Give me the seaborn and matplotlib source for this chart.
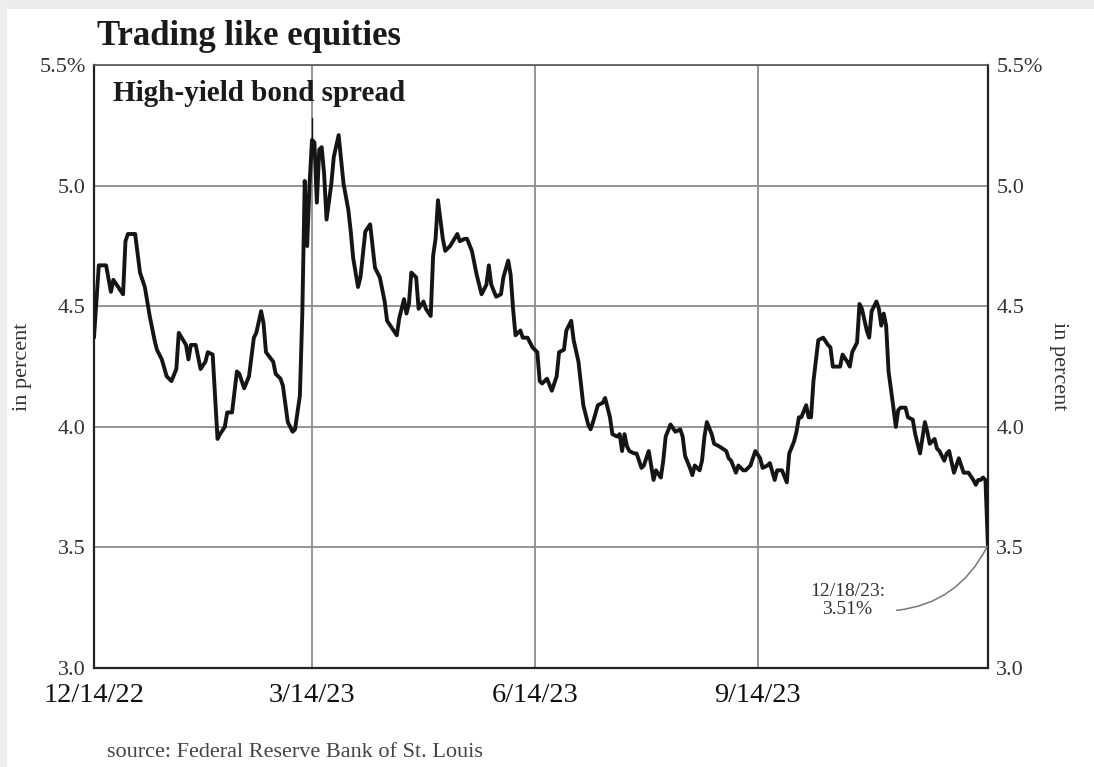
import numpy as np
import pandas as pd
import matplotlib
matplotlib.use("Agg")
import matplotlib.pyplot as plt
from matplotlib.patches import Rectangle
import seaborn as sns

# High-yield bond spread, percent; x is days after the start date
start_date = "2022-12-14"
end_date = "2023-12-18"
day_offsets = [
    0, 1, 2, 5, 7, 8, 10, 12, 13, 14, 17, 19, 21, 23, 25, 26, 28, 30, 32, 34,
    35, 38, 39, 40, 42, 44, 46, 47, 49, 51, 52, 54, 55, 57, 59, 60, 62, 64, 66, 67,
    69, 70, 71, 74, 75, 77, 78, 80, 82, 83, 85, 86, 87, 88, 89,
    90, 91, 92, 93, 94, 95, 96, 98, 99, 101, 102, 103, 105, 106, 107, 109, 110, 112, 114, 115,
    116, 118, 120, 121, 123, 125, 126, 128, 129, 130, 131, 133, 134, 136, 137, 139, 140, 141, 142, 144,
    145, 147, 150, 151, 153, 154, 156, 158, 160, 162, 163, 164, 166, 168, 169, 171, 172, 173, 174, 176,
    177, 179, 180, 181,
    183, 184, 185, 187, 189, 191, 192, 194, 195, 197, 198, 200, 201, 202, 204, 205, 206, 208, 210, 211,
    213, 214, 216, 217, 218, 219, 220, 221, 223, 224, 226, 227, 229, 230, 231, 232, 234, 235, 236, 238,
    240, 242, 243, 244, 246, 247, 248, 250, 251, 252, 253, 255, 256, 258, 261, 262, 263, 265, 266, 268,
    269, 271, 273,
    275, 276, 278, 279, 281, 282, 284, 286, 287, 289, 290, 291, 292, 294, 295, 296, 297, 299, 301, 303,
    304, 305, 307, 308, 309, 311, 312, 313, 315, 316, 317, 319, 320, 321, 323, 324, 325, 326, 327, 328,
    330, 331, 332, 333, 335, 336, 338, 339, 340, 341, 343, 344, 345, 347, 348, 349, 351, 352, 353, 355,
    356, 357, 359, 361, 363, 364, 365, 366, 367, 368, 369,
]
spread = [
    4.37, 4.52, 4.67, 4.67, 4.56, 4.61, 4.58, 4.55, 4.77, 4.80, 4.80, 4.64, 4.58, 4.46, 4.36, 4.32, 4.28, 4.21, 4.19, 4.24,
    4.39, 4.34, 4.28, 4.34, 4.34, 4.24, 4.27, 4.31, 4.30, 3.95, 3.97, 4.00, 4.06, 4.06, 4.23, 4.22, 4.16, 4.21, 4.37, 4.39,
    4.48, 4.43, 4.31, 4.27, 4.22, 4.20, 4.17, 4.02, 3.98, 3.99, 4.13, 4.47, 5.02, 4.75, 5.01,
    5.19, 5.18, 4.93, 5.15, 5.16, 5.05, 4.86, 5.01, 5.12, 5.21, 5.11, 5.01, 4.90, 4.81, 4.70, 4.58, 4.62, 4.81, 4.84, 4.75,
    4.66, 4.62, 4.52, 4.44, 4.41, 4.38, 4.45, 4.53, 4.47, 4.51, 4.64, 4.62, 4.49, 4.52, 4.49, 4.46, 4.71, 4.78, 4.94, 4.78,
    4.73, 4.75, 4.80, 4.77, 4.78, 4.78, 4.73, 4.63, 4.55, 4.59, 4.67, 4.59, 4.54, 4.55, 4.62, 4.69, 4.63, 4.49, 4.38, 4.40,
    4.37, 4.37, 4.35, 4.33,
    4.31, 4.19, 4.18, 4.20, 4.15, 4.21, 4.31, 4.32, 4.40, 4.44, 4.36, 4.27, 4.18, 4.09, 4.01, 3.99, 4.02, 4.09, 4.10, 4.12,
    4.04, 3.97, 3.96, 3.97, 3.90, 3.97, 3.92, 3.90, 3.89, 3.89, 3.83, 3.84, 3.90, 3.84, 3.78, 3.82, 3.79, 3.86, 3.96, 4.01,
    3.98, 3.99, 3.96, 3.88, 3.83, 3.80, 3.84, 3.82, 3.86, 3.96, 4.02, 3.97, 3.93, 3.92, 3.90, 3.87, 3.86, 3.81, 3.84, 3.82,
    3.82, 3.84, 3.90,
    3.87, 3.83, 3.84, 3.85, 3.78, 3.82, 3.82, 3.77, 3.89, 3.94, 3.98, 4.04, 4.04, 4.09, 4.04, 4.04, 4.19, 4.36, 4.37, 4.34,
    4.33, 4.25, 4.25, 4.25, 4.30, 4.27, 4.25, 4.31, 4.35, 4.51, 4.49, 4.40, 4.37, 4.48, 4.52, 4.49, 4.42, 4.47, 4.42, 4.23,
    4.08, 4.00, 4.07, 4.08, 4.08, 4.04, 4.03, 3.97, 3.93, 3.89, 4.02, 3.98, 3.93, 3.95, 3.91, 3.90, 3.86, 3.89, 3.90, 3.81,
    3.84, 3.87, 3.81, 3.81, 3.78, 3.76, 3.78, 3.78, 3.79, 3.78, 3.51,
]

# 3/14/23 stress marker: short thin stroke above the line
marker_date = "2023-03-14"
marker_range = [5.19, 5.28]

x_tick_dates = ["2022-12-14", "2023-03-14", "2023-06-14", "2023-09-14"]
x_tick_labels = ["12/14/22", "3/14/23", "6/14/23", "9/14/23"]
y_ticks = [3.0, 3.5, 4.0, 4.5, 5.0, 5.5]
y_tick_labels = ["3.0", "3.5", "4.0", "4.5", "5.0", "5.5%"]

last_label = "12/18/23:\n3.51%"

sns.set_style("white")
plt.rcParams["font.family"] = ["Liberation Serif", "DejaVu Serif"]

df = pd.DataFrame({
    "date": pd.to_datetime(start_date) + pd.to_timedelta(day_offsets, unit="D"),
    "spread": spread,
})

fig = plt.figure(figsize=(10.94, 7.67), dpi=100)
fig.patch.set_facecolor("white")
# faint page edge along top and left
fig.patches.append(Rectangle((0, 0.988), 1, 0.012, transform=fig.transFigure,
                             facecolor="#ececec", edgecolor="none", zorder=0))
fig.patches.append(Rectangle((0, 0), 0.006, 1, transform=fig.transFigure,
                             facecolor="#eeeeee", edgecolor="none", zorder=0))

ax = fig.add_axes([0.0859, 0.129, 0.8171, 0.786])
sns.lineplot(data=df, x="date", y="spread", ax=ax, estimator=None, sort=False,
             color="#151515", linewidth=2.8, zorder=3)
ax.plot(pd.to_datetime([marker_date, marker_date]), marker_range,
        color="#151515", linewidth=1.0, zorder=3)

x0, x1 = pd.to_datetime(start_date), pd.to_datetime(end_date)
ax.set_xlim(x0, x1)
ax.set_ylim(3.0, 5.5)

ax.set_xticks(pd.to_datetime(x_tick_dates))
ax.set_xticklabels(x_tick_labels, fontsize=20.5, color="#111111")
ax.set_yticks(y_ticks)
ax.set_yticklabels(y_tick_labels, fontsize=16, color="#333333")
ax.tick_params(axis="both", length=0)
ax.tick_params(axis="x", pad=11)
ax.tick_params(axis="y", pad=6)

ax.grid(True, color="#8c8c8c", linewidth=1.3)
ax.set_axisbelow(True)
ax.set_xlabel("")
ax.set_ylabel("in percent", fontsize=16, color="#333333", labelpad=5)

for side, sp in ax.spines.items():
    sp.set_visible(True)
    sp.set_color("#222222" if side in ("left", "bottom", "right") else "#555555")
    sp.set_linewidth(1.6 if side in ("left", "bottom", "right") else 1.2)

ax2 = ax.twinx()
ax2.set_ylim(3.0, 5.5)
ax2.set_yticks(y_ticks)
ax2.set_yticklabels(y_tick_labels, fontsize=16, color="#333333")
ax2.tick_params(axis="y", length=0, pad=6)
ax2.set_ylabel("in percent", fontsize=16, color="#333333", rotation=270, labelpad=18)
for sp in ax2.spines.values():
    sp.set_visible(False)

ax.text(0.021, 0.975, "High-yield bond spread", transform=ax.transAxes,
        fontsize=21, fontweight="bold", color="#1a1a1a", va="top", ha="left")

ax.annotate(last_label, xy=(df["date"].iloc[-1], df["spread"].iloc[-1]),
            xytext=(0.843, 0.112), textcoords="axes fraction",
            fontsize=14, color="#333333", ha="center", va="center",
            linespacing=1.1,
            arrowprops=dict(arrowstyle="-", color="#777777", lw=1.1,
                            relpos=(1.0, 0.2), shrinkA=6, shrinkB=1,
                            connectionstyle="arc3,rad=0.3"))

fig.text(0.089, 0.953, "Trading like equities", fontsize=25, fontweight="bold",
         color="#1a1a1a", ha="left", va="center")
fig.text(0.098, 0.019, "source: Federal Reserve Bank of St. Louis", fontsize=16,
         color="#444444", ha="left", va="center")

fig.savefig("out.png", dpi=100, facecolor=fig.get_facecolor())
